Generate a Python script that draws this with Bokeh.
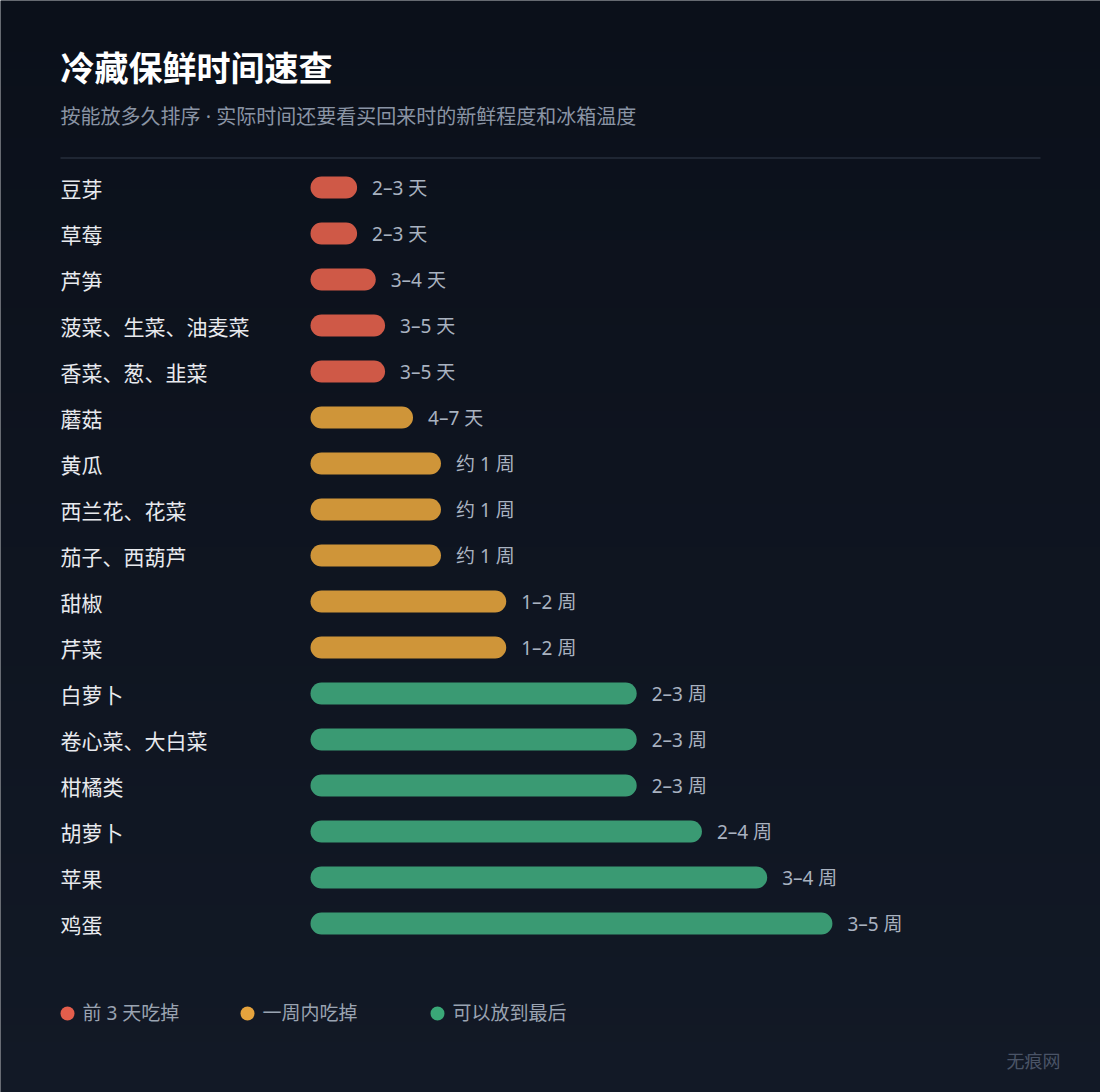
import numpy as np
from bokeh.plotting import figure
from bokeh.models import Range1d, ColumnDataSource
from bokeh.core.properties import value
from bokeh.embed import file_html
from bokeh.resources import INLINE

# ---------------- data ----------------
categories = ["豆芽", "草莓", "芦笋", "菠菜、生菜、油麦菜", "香菜、葱、韭菜", "蘑菇",
              "黄瓜", "西兰花、花菜", "茄子、西葫芦", "甜椒", "芹菜", "白萝卜",
              "卷心菜、大白菜", "柑橘类", "胡萝卜", "苹果", "鸡蛋"]
# midpoint of storage time, in days
days = [2.5, 2.5, 3.5, 4, 4, 5.5, 7, 7, 7, 10.5, 10.5, 17.5, 17.5, 17.5, 21, 24.5, 28]
range_labels = ["2–3 天", "2–3 天", "3–4 天", "3–5 天", "3–5 天", "4–7 天",
                "约 1 周", "约 1 周", "约 1 周", "1–2 周", "1–2 周", "2–3 周",
                "2–3 周", "2–3 周", "2–4 周", "3–4 周", "3–5 周"]
groups = ["前 3 天吃掉"] * 5 + ["一周内吃掉"] * 6 + ["可以放到最后"] * 6
legend_names = ["前 3 天吃掉", "一周内吃掉", "可以放到最后"]
bar_colors = {"前 3 天吃掉": "#cf5947", "一周内吃掉": "#cf9539", "可以放到最后": "#3a9a73"}
dot_colors = ["#e45e4c", "#e6a33d", "#3aa877"]

title = "冷藏保鲜时间速查"
subtitle = "按能放多久排序 · 实际时间还要看买回来时的新鲜程度和冰箱温度"
watermark = "无痕网"

# ---------------- layout ----------------
W, H = 1100, 1092
OFF = 0
X0_PAGE = 310
PX_PER_DAY = 18.64
ROW0_PAGE = 187
ROW_H = 46
FONT = "Noto Sans CJK SC"
MIXED = "Noto Sans, Noto Sans CJK SC"


def dx(px):
    return (px - X0_PAGE) / PX_PER_DAY


def dy(py):
    return (py - ROW0_PAGE) / ROW_H


p = figure(width=W, height=H, output_backend="svg", toolbar_location=None,
           x_range=Range1d(dx(OFF), dx(OFF + W)),
           y_range=Range1d(dy(OFF + H), dy(OFF)),
           min_border=0, outline_line_color=None)
p.axis.visible = False
p.grid.visible = False
p.background_fill_color = "#0e1520"
p.border_fill_color = "#0e1520"

# background gradient
n = 128
top = np.array([11, 16, 26])
bot = np.array([18, 25, 38])
img = np.empty((n, 1), dtype=np.uint32)
view = img.view(dtype=np.uint8).reshape((n, 1, 4))
for k in range(n):
    t = k / (n - 1)
    c = top + (bot - top) * t
    view[k, 0, 0] = int(round(c[0]))
    view[k, 0, 1] = int(round(c[1]))
    view[k, 0, 2] = int(round(c[2]))
    view[k, 0, 3] = 255
p.image_rgba(image=[img], x=dx(OFF), y=dy(OFF), dw=dx(OFF + W) - dx(OFF),
             dh=dy(OFF + H) - dy(OFF))

# title, subtitle, divider
p.text(x=[dx(60)], y=[dy(66)], text=[title], text_font=value(FONT),
       text_font_size="34px", text_font_style="bold", text_color="#ffffff",
       text_baseline="middle", text_align="left")
p.text(x=[dx(60)], y=[dy(116)], text=[subtitle], text_font=value(MIXED),
       text_font_size="20px", text_color="#8a94a4",
       text_baseline="middle", text_align="left")
p.segment(x0=[dx(60)], y0=[dy(157.5)], x1=[dx(1040)], y1=[dy(157.5)],
          line_color="#1f2633", line_width=2)

# bars
rows = list(range(len(categories)))
src = ColumnDataSource(dict(
    y=rows, days=days, cat=categories, lab=range_labels,
    color=[bar_colors[g] for g in groups],
))
p.hbar(y="y", left=0, right="days", height=22 / ROW_H, fill_color="color",
       line_color=None, border_radius=11, source=src)

p.text(x=dx(60), y="y", text="cat", source=src, text_font=value(FONT),
       text_font_size="21px", text_color="#e8eaee",
       text_baseline="middle", text_align="left", y_offset=0)
p.text(x="days", y="y", text="lab", source=src, text_font=value(MIXED),
       text_font_size="19px", text_color="#a9b2c0", x_offset=15,
       text_baseline="middle", text_align="left", y_offset=0)

# legend
leg_x = [67, 247, 437]
p.scatter(x=[dx(v) for v in leg_x], y=[dy(1013)] * 3, size=14,
          fill_color=dot_colors, line_color=None)
p.text(x=[dx(v + 15) for v in leg_x], y=[dy(1012)] * 3, text=legend_names,
       text_font=value(MIXED), text_font_size="19px", text_color="#9aa3b1",
       text_baseline="middle", text_align="left")

# watermark
p.text(x=[dx(1060)], y=[dy(1059)], text=[watermark], text_font=value(FONT),
       text_font_size="18px", text_color="#4a5466",
       text_baseline="middle", text_align="right")

open("out.html", "w").write(file_html(p, INLINE))
